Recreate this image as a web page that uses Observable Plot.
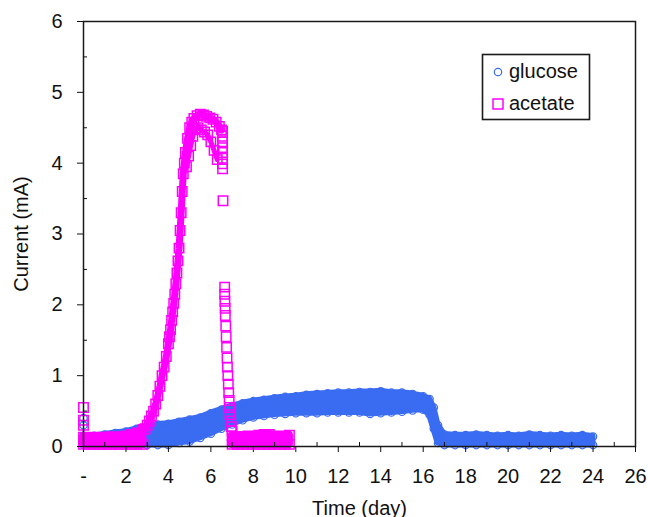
<!DOCTYPE html>
<html>
<head>
<meta charset="utf-8">
<script src="https://cdn.jsdelivr.net/npm/d3@7"></script>
<script src="https://cdn.jsdelivr.net/npm/@observablehq/plot@0.6"></script>
<style>
  body { margin: 0; background: #fff; }
  #wrap { position: relative; width: 648px; height: 517px; overflow: hidden; background: #fff; }
  #legend { position: absolute; left: 481px; top: 53px; }
</style>
</head>
<body>
<div id="wrap"></div>
<script>
// ---------- data ----------
const glucoseTime = [0,0.5,1,1.5,2,2.5,3,3.5,4,4.5,5,5.5,6,6.5,7,7.5,8,8.5,9,9.5,10,10.5,11,11.5,12,12.5,13,13.5,14,14.5,15,15.5,16,16.3,16.5,16.7,17,17.5,18,18.5,19,19.5,20,20.5,21,21.5,22,22.5,23,23.5,24];
const glucoseHigh = [0.15,0.15,0.17,0.19,0.21,0.25,0.29,0.31,0.32,0.35,0.38,0.41,0.47,0.52,0.57,0.61,0.64,0.66,0.68,0.70,0.71,0.73,0.74,0.75,0.76,0.76,0.77,0.77,0.78,0.76,0.76,0.74,0.71,0.67,0.55,0.30,0.17,0.16,0.16,0.17,0.16,0.15,0.16,0.15,0.17,0.16,0.15,0.16,0.15,0.16,0.14];
const glucoseLow  = [0.02,0.02,0.02,0.02,0.02,0.02,0.02,0.02,0.02,0.05,0.07,0.12,0.18,0.25,0.31,0.37,0.41,0.43,0.45,0.46,0.47,0.47,0.47,0.48,0.48,0.48,0.48,0.46,0.47,0.48,0.49,0.51,0.52,0.45,0.25,0.05,0.02,0.02,0.02,0.02,0.02,0.02,0.02,0.02,0.02,0.02,0.02,0.02,0.02,0.02,0.02];
const glucoseStartTime  = [0, 0];
const glucoseStartValue = [0.40, 0.30];

const acetateBaseTime = [0,0.25,0.5,0.75,1,1.25,1.5,1.75,2,2.25,2.5,2.8];
const acetateBaseHigh = [0.13,0.12,0.13,0.12,0.13,0.14,0.13,0.14,0.15,0.17,0.19,0.24];
const acetateBaseLow  = [0.03,0.03,0.03,0.03,0.03,0.03,0.03,0.03,0.03,0.03,0.03,0.03];
const acetateStartTime  = [0, 0, 0];
const acetateStartValue = [0.55, 0.37, 0.30];
const acetateRiseTime  = [2.9,3.0,3.1,3.2,3.3,3.4,3.5,3.6,3.7,3.8,3.9,4.0,4.05,4.1,4.15,4.2,4.25,4.3,4.35,4.4,4.45,4.5,4.55,4.6,4.65,4.7,4.75,4.8,4.9,5.0,5.1,5.2,5.35,5.5,5.65,5.8,5.95,6.1,6.25,6.4,6.5];
const acetateRiseValue = [0.25,0.30,0.36,0.43,0.50,0.60,0.72,0.85,1.00,1.12,1.27,1.45,1.55,1.65,1.78,1.90,2.02,2.15,2.30,2.45,2.62,2.80,3.05,3.30,3.60,3.85,4.00,4.15,4.35,4.50,4.58,4.63,4.67,4.69,4.68,4.66,4.64,4.62,4.58,4.52,4.47];
const acetateInnerTime  = [4.85,4.95,5.05,5.15,5.26,5.4,5.55,5.7,5.85,6.0,6.15,6.3];
const acetateInnerValue = [3.95,4.10,4.25,4.38,4.48,4.50,4.47,4.44,4.40,4.30,4.18,4.05];
const acetateDropTime  = [6.55,6.55,6.55,6.55,6.55,6.55,6.55,6.55,6.57];
const acetateDropValue = [4.45,4.38,4.30,4.22,4.15,4.07,3.99,3.92,3.47];
const acetateFallTime  = [6.65,6.65,6.66,6.67,6.68,6.7,6.72,6.74,6.76,6.78,6.8,6.82,6.84,6.86,6.88,6.9,6.93,6.96,7.0];
const acetateFallValue = [2.25,2.15,2.05,1.95,1.85,1.70,1.55,1.40,1.25,1.12,1.00,0.88,0.76,0.65,0.55,0.45,0.36,0.28,0.22];
const acetateTailTime = [7.0,7.25,7.5,7.75,8,8.25,8.5,8.75,9,9.25,9.5,9.7];
const acetateTailHigh = [0.15,0.14,0.14,0.15,0.14,0.16,0.17,0.17,0.15,0.14,0.15,0.16];
const acetateTailLow  = [0.03,0.03,0.03,0.03,0.03,0.03,0.03,0.03,0.03,0.03,0.03,0.03];

const xTickValues = [0,2,4,6,8,10,12,14,16,18,20,22,24,26];
const xTickLabels = ["-","2","4","6","8","10","12","14","16","18","20","22","24","26"];
const xMinorTicks = [1,3,5,7,9,11,13,15,17,19,21,23,25];
const yTickValues = [0,1,2,3,4,5,6];
const yTickLabels = ["0","1","2","3","4","5","6"];
const yMinorTicks = [0.5,1.5,2.5,3.5,4.5,5.5];
const seriesNames = ["glucose", "acetate"];

// ---------- styles ----------
const BLUE = "#3a6cf2";
const MAGENTA = "#ff00ff";
const FONT = "'Liberation Sans', Arial, sans-serif";

// ---------- tables ----------
const band = (t, lo, hi) => t.map((d, i) => ({t: d, lo: lo[i], hi: hi[i]}));
const pts = (t, v) => t.map((d, i) => ({t: d, v: v[i]}));
const glucoseBand = band(glucoseTime, glucoseLow, glucoseHigh);
const acetateBase = band(acetateBaseTime, acetateBaseLow, acetateBaseHigh);
const acetateTail = band(acetateTailTime, acetateTailLow, acetateTailHigh);
const acetateRise = pts(acetateRiseTime, acetateRiseValue);
const acetateInner = pts(acetateInnerTime, acetateInnerValue);
const acetatePts = [
  ...pts(acetateStartTime, acetateStartValue),
  ...acetateRise,
  ...acetateInner,
  ...pts(acetateDropTime, acetateDropValue),
  ...pts(acetateFallTime, acetateFallValue)
];
const xLabel = new Map(xTickValues.map((d, i) => [d, xTickLabels[i]]));
const yLabel = new Map(yTickValues.map((d, i) => [d, yTickLabels[i]]));

const circ = {r: 3.7, stroke: BLUE, strokeWidth: 1.2, fill: "none"};
const sq = {symbol: "square", r: 5.3, stroke: MAGENTA, strokeWidth: 1.5, fill: "none"};

const chart = Plot.plot({
  width: 648,
  height: 517,
  marginLeft: 83,
  marginRight: 13,
  marginTop: 21,
  marginBottom: 71,
  style: {fontFamily: FONT, fontSize: "19px", color: "#111", background: "#fff"},
  x: {domain: [0, 26]},
  y: {domain: [0, 6]},
  marks: [
    // glucose
    Plot.areaY(glucoseBand, {x: "t", y1: "lo", y2: "hi", fill: BLUE, stroke: BLUE, strokeWidth: 6, strokeLinejoin: "round"}),
    Plot.dot(glucoseBand, {x: "t", y: "hi", ...circ}),
    Plot.dot(glucoseBand, {x: "t", y: "lo", ...circ}),
    Plot.dot(pts(glucoseStartTime, glucoseStartValue), {x: "t", y: "v", ...circ}),
    // acetate
    Plot.areaY(acetateBase, {x: "t", y1: "lo", y2: "hi", fill: MAGENTA, stroke: MAGENTA, strokeWidth: 8, strokeLinejoin: "round"}),
    Plot.areaY(acetateTail, {x: "t", y1: "lo", y2: "hi", fill: MAGENTA, stroke: MAGENTA, strokeWidth: 8, strokeLinejoin: "round"}),
    Plot.line(acetateRise, {x: "t", y: "v", stroke: MAGENTA, strokeWidth: 7, strokeLinejoin: "round"}),
    Plot.line(acetateInner, {x: "t", y: "v", stroke: MAGENTA, strokeWidth: 5, strokeLinejoin: "round"}),
    Plot.dot(acetateBase, {x: "t", y: "hi", ...sq}),
    Plot.dot(acetateBase, {x: "t", y: "lo", ...sq}),
    Plot.dot(acetateTail, {x: "t", y: "hi", ...sq}),
    Plot.dot(acetateTail, {x: "t", y: "lo", ...sq}),
    Plot.dot(acetatePts, {x: "t", y: "v", ...sq}),
    // axes
    Plot.frame({stroke: "#1a1a1a", strokeWidth: 1.5}),
    Plot.axisX({ticks: xTickValues, tickSize: 6, tickPadding: 16, tickFormat: d => xLabel.get(d),
      label: "Time (day)", labelAnchor: "center", labelOffset: 68, labelArrow: "none", fontSize: 20}),
    Plot.axisX({ticks: xMinorTicks, tickSize: -4, tickFormat: () => "", label: null}),
    Plot.axisY({ticks: yTickValues, tickSize: 6, tickPadding: 15, tickFormat: d => yLabel.get(d),
      label: "Current (mA)", labelAnchor: "center", labelOffset: 70, labelArrow: "none", fontSize: 20}),
    Plot.axisY({ticks: yMinorTicks, tickSize: -4, tickFormat: () => "", label: null})
  ]
});

const wrap = document.getElementById("wrap");
wrap.appendChild(chart);

// legend
const ns = "http://www.w3.org/2000/svg";
const leg = document.createElementNS(ns, "svg");
leg.setAttribute("id", "legend");
leg.setAttribute("width", 111);
leg.setAttribute("height", 69);
leg.innerHTML = `
  <rect x="1.5" y="1.5" width="107" height="65" fill="#fff" stroke="#1a1a1a" stroke-width="1.6"/>
  <circle cx="17" cy="19" r="3.7" fill="none" stroke="${BLUE}" stroke-width="1.2"/>
  <text x="28" y="25" font-family="${FONT}" font-size="20" fill="#111">${seriesNames[0]}</text>
  <rect x="12" y="46" width="10" height="10" fill="none" stroke="${MAGENTA}" stroke-width="1.5"/>
  <text x="28" y="57" font-family="${FONT}" font-size="20" fill="#111">${seriesNames[1]}</text>`;
wrap.appendChild(leg);
</script>
</body>
</html>
